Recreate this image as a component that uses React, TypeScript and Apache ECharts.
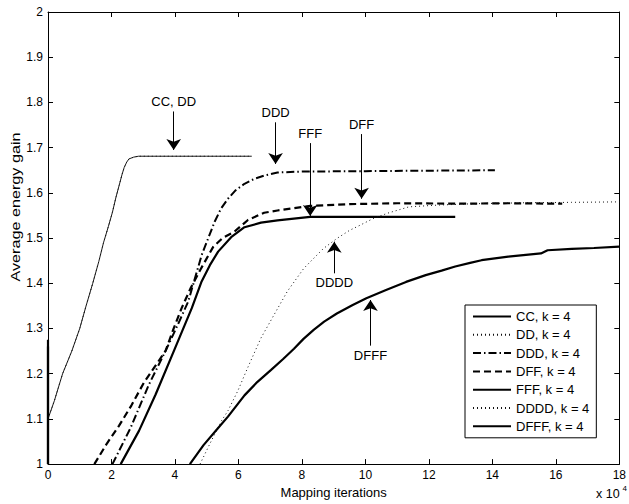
import React, { useEffect, useRef } from "react";
import * as echarts from "echarts";

const FONT = "'Liberation Sans', Arial, Helvetica, sans-serif";

// x values are in units of 10^4 mapping iterations
const seriesNames = ["CC, k = 4", "DD, k = 4", "DDD, k = 4", "DFF, k = 4", "FFF, k = 4", "DDDD, k = 4", "DFFF, k = 4"];

const ccX = [0, 0.2, 0.46, 0.75, 1.0, 1.2, 1.41, 1.6, 1.75, 1.9, 2.03, 2.14, 2.24, 2.33, 2.4, 2.48, 2.55, 2.7, 2.85, 4, 5, 6.42];
const ccY = [1.1, 1.14, 1.2, 1.25, 1.3, 1.35, 1.4, 1.448, 1.49, 1.525, 1.557, 1.59, 1.616, 1.64, 1.656, 1.668, 1.675, 1.679, 1.681, 1.681, 1.681, 1.681];

const ddX = [0, 0.2, 0.46, 0.75, 1.0, 1.2, 1.41, 1.6, 1.75, 1.9, 2.03, 2.14, 2.24, 2.33, 2.4, 2.48, 2.55, 2.7, 2.85, 4, 5, 6.42];
const ddY = [1.1, 1.14, 1.2, 1.25, 1.3, 1.35, 1.4, 1.448, 1.49, 1.525, 1.557, 1.59, 1.616, 1.64, 1.656, 1.668, 1.675, 1.679, 1.681, 1.681, 1.681, 1.681];

const dddX = [2.03, 2.6, 3.18, 3.75, 4.1, 4.42, 4.84, 5.05, 5.25, 5.45, 5.67, 5.9, 6.19, 6.5, 6.81, 7.23, 8, 10, 12, 14.08];
const dddY = [1.0, 1.08, 1.176, 1.257, 1.31, 1.36, 1.462, 1.5, 1.536, 1.565, 1.587, 1.605, 1.62, 1.631, 1.638, 1.645, 1.647, 1.648, 1.649, 1.65];

const dffX = [1.46, 1.85, 2.24, 2.63, 3.02, 3.36, 3.7, 3.96, 4.21, 4.5, 4.8, 5.2, 5.5, 5.87, 6.3, 6.81, 7.23, 8.26, 9.5, 11, 13, 14.5, 16.2];
const dffY = [1.0, 1.045, 1.085, 1.13, 1.18, 1.215, 1.25, 1.3, 1.345, 1.39, 1.43, 1.48, 1.5, 1.514, 1.54, 1.556, 1.561, 1.571, 1.575, 1.577, 1.576, 1.577, 1.576];

const fffX = [0, 0, 1, 2.29, 2.87, 3.39, 4.0, 4.53, 4.84, 5.1, 5.36, 5.77, 6.19, 6.71, 7.23, 8.26, 10, 12.83];
const fffY: (number | string)[] = [1.275, 1.0, "-", 1.0, 1.074, 1.154, 1.256, 1.345, 1.404, 1.44, 1.47, 1.502, 1.524, 1.534, 1.539, 1.547, 1.547, 1.547];

const ddddX = [4.79, 5.1, 5.46, 5.67, 5.98, 6.29, 6.71, 7.12, 7.54, 8.06, 8.68, 9.1, 9.5, 9.82, 10.24, 10.7, 11.37, 12.3, 13.46, 15, 16.5, 18];
const ddddY = [1.0, 1.045, 1.095, 1.118, 1.162, 1.213, 1.279, 1.33, 1.382, 1.433, 1.477, 1.499, 1.517, 1.528, 1.543, 1.555, 1.569, 1.573, 1.576, 1.578, 1.579, 1.58];

const dfffX = [0, 0, 2, 4.47, 4.9, 5.36, 5.67, 6.19, 6.6, 7.02, 7.4, 7.75, 8.05, 8.37, 8.7, 9.1, 9.6, 10.03, 10.65, 11.28, 11.9, 12.4, 12.83, 13.3, 13.66, 14.5, 15.53, 15.74, 16.5, 17.2, 18];
const dfffY: (number | string)[] = [1.26, 1.0, "-", 1.0, 1.042, 1.08, 1.105, 1.152, 1.182, 1.208, 1.232, 1.255, 1.277, 1.297, 1.315, 1.333, 1.352, 1.367, 1.385, 1.403, 1.418, 1.428, 1.437, 1.445, 1.451, 1.459, 1.466, 1.473, 1.476, 1.478, 1.481];

// annotation arrows: label, x, y at label end, y at arrow tip
const annLabels = ["CC, DD", "DD", "DDD", "DFF", "FFF", "DDDD", "DFFF"];
const annX = [3.96, 0, 7.17, 9.88, 8.26, 9.02, 10.16];
const annFrom = [1.78, 0, 1.756, 1.73, 1.71, 1.422, 1.262];
const annTo = [1.695, 0, 1.664, 1.587, 1.549, 1.492, 1.363];
const annShow = [true, false, true, true, true, true, true];

const xTickLabels = ["0", "2", "4", "6", "8", "10", "12", "14", "16", "18"];

const zip = (xs: number[], ys: (number | string)[]) => xs.map((x, i) => [x, ys[i]]);

const lineStyles: any[] = [
  { color: "#000", width: 0.9, type: "solid" },
  { color: "#111", width: 1, type: [1, 3] },
  { color: "#000", width: 2, type: [8, 3, 1.5, 3] },
  { color: "#000", width: 2.2, type: [7, 4] },
  { color: "#000", width: 2.2, type: "solid" },
  { color: "#111", width: 1, type: [1, 3] },
  { color: "#000", width: 2.2, type: "solid" },
];

const dataSets = [
  zip(ccX, ccY),
  zip(ddX, ddY),
  zip(dddX, dddY),
  zip(dffX, dffY),
  zip(fffX, fffY),
  zip(ddddX, ddddY),
  zip(dfffX, dfffY),
];

export default function App() {
  const ref = useRef<HTMLDivElement>(null);
  useEffect(() => {
    if (!ref.current) return;
    const chart = echarts.init(ref.current, null, { renderer: "svg" });
    const series = seriesNames.map((name, i) => {
      const s: any = {
        name,
        type: "line",
        data: dataSets[i],
        symbol: "none",
        showSymbol: false,
        connectNulls: false,
        lineStyle: lineStyles[i],
        itemStyle: { color: "#000" },
        clip: true,
        silent: true,
        z: 2 + i * 0.01,
      };
      if (annShow[i]) {
        s.markLine = {
          silent: true,
          symbol: ["none", "arrow"],
          symbolSize: 11,
          precision: 4,
          lineStyle: { color: "#000", width: 1, type: "solid" },
          label: {
            show: true,
            position: "start",
            formatter: annLabels[i],
            color: "#000",
            fontSize: 13,
            fontFamily: FONT,
            distance: 3,
          },
          data: [[{ coord: [annX[i], annFrom[i]] }, { coord: [annX[i], annTo[i]] }]],
        };
      }
      return s;
    });

    const option: any = {
      animation: false,
      backgroundColor: "#fff",
      textStyle: { fontFamily: FONT, color: "#000" },
      grid: { left: 48, right: 3, top: 12, bottom: 37, containLabel: false },
      legend: {
        left: 465,
        top: 305,
        orient: "vertical",
        data: seriesNames,
        borderColor: "#000",
        borderWidth: 1,
        backgroundColor: "#fff",
        padding: [5, 7, 5, 7],
        itemWidth: 38,
        itemHeight: 10,
        itemGap: 5.3,
        selectedMode: false,
        itemStyle: { color: "rgba(0,0,0,0)", borderWidth: 0, opacity: 0 },
        textStyle: { fontSize: 13, color: "#000", fontFamily: FONT, lineHeight: 13 },
        z: 10,
      },
      xAxis: [
        {
          type: "value",
          min: 0,
          max: 18,
          interval: 2,
          position: "bottom",
          name: "Mapping iterations",
          nameLocation: "middle",
          nameGap: 19,
          nameTextStyle: { fontSize: 13, color: "#000", fontFamily: FONT },
          axisLine: { show: true, onZero: false, lineStyle: { color: "#000", width: 1 } },
          axisTick: { show: true, inside: true, length: 5, lineStyle: { color: "#000" } },
          axisLabel: {
            show: true,
            margin: 5,
            fontSize: 12,
            color: "#000",
            fontFamily: FONT,
            showMaxLabel: true,
            formatter: (v: number) => xTickLabels[Math.round(v / 2)] ?? String(v),
          },
          splitLine: { show: false },
        },
        {
          type: "value",
          min: 0,
          max: 18,
          interval: 2,
          position: "top",
          axisLine: { show: true, onZero: false, lineStyle: { color: "#000", width: 1 } },
          axisTick: { show: true, inside: true, length: 5, lineStyle: { color: "#000" } },
          axisLabel: { show: false },
          splitLine: { show: false },
        },
      ],
      yAxis: [
        {
          type: "value",
          min: 1,
          max: 2,
          interval: 0.1,
          position: "left",
          axisLine: { show: true, onZero: false, lineStyle: { color: "#000", width: 1 } },
          axisTick: { show: true, inside: true, length: 5, lineStyle: { color: "#000" } },
          axisLabel: {
            show: true,
            margin: 5,
            fontSize: 12,
            color: "#000",
            fontFamily: FONT,
            formatter: (v: number) => String(Math.round(v * 10) / 10),
          },
          splitLine: { show: false },
        },
        {
          type: "value",
          min: 1,
          max: 2,
          interval: 0.1,
          position: "right",
          axisLine: { show: true, onZero: false, lineStyle: { color: "#000", width: 1 } },
          axisTick: { show: true, inside: true, length: 5, lineStyle: { color: "#000" } },
          axisLabel: { show: false },
          splitLine: { show: false },
        },
      ],
      graphic: [
        {
          type: "text",
          x: 15.5,
          y: 207,
          rotation: Math.PI / 2,
          scaleX: 1.35,
          silent: true,
          style: {
            text: "Average energy gain",
            fontSize: 12,
            fontFamily: FONT,
            fill: "#000",
            align: "center",
            verticalAlign: "middle",
          },
        },
        {
          type: "text",
          x: 596,
          y: 494,
          silent: true,
          style: { text: "x 10", fontSize: 12.5, fontFamily: FONT, fill: "#000", align: "left", verticalAlign: "middle" },
        },
        {
          type: "text",
          x: 622.5,
          y: 488,
          silent: true,
          style: { text: "4", fontSize: 8, fontFamily: FONT, fill: "#000", align: "left", verticalAlign: "middle" },
        },
      ],
      series,
    };
    chart.setOption(option);
    return () => chart.dispose();
  }, []);

  return (
    <div
      ref={ref}
      style={{ position: "fixed", left: 0, top: 0, width: 629, height: 504, background: "#fff" }}
    />
  );
}
